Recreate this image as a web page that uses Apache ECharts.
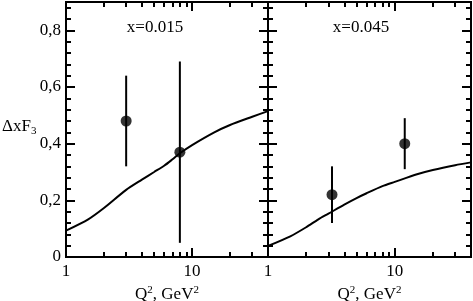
<!DOCTYPE html>
<html><head><meta charset="utf-8">
<script src="https://cdn.jsdelivr.net/npm/echarts@6/dist/echarts.min.js"></script>
<style>html,body{margin:0;padding:0;background:#fff}#c{width:473px;height:301px}</style>
</head><body><div id="c"></div>
<script>
// ---- data ----
const panelLabels = ['x=0.015', 'x=0.045'];
const curveQ1 = [1, 1.5, 2, 3, 4, 5, 6, 7, 8, 10, 15, 20, 30, 40];
const curveF1 = [0.093, 0.133, 0.173, 0.237, 0.273, 0.3, 0.322, 0.345, 0.366, 0.395, 0.44, 0.466, 0.495, 0.515];
const curveQ2 = [1, 1.5, 2, 2.5, 3, 4, 5, 6, 8, 10, 15, 20, 30, 40];
const curveF2 = [0.039, 0.073, 0.105, 0.133, 0.153, 0.185, 0.208, 0.225, 0.25, 0.265, 0.292, 0.307, 0.324, 0.334];
const ptQ1 = [3, 8];
const ptF1 = [0.48, 0.37];
const ptLo1 = [0.32, 0.05];
const ptHi1 = [0.64, 0.69];
const ptQ2 = [3.2, 12];
const ptF2 = [0.22, 0.40];
const ptLo2 = [0.12, 0.31];
const ptHi2 = [0.32, 0.49];
const xMajor = [1, 10];
const xMinor = [2, 3, 4, 5, 6, 7, 8, 9, 20, 30];
const yMajor = [0, 0.2, 0.4, 0.6, 0.8];
const yMinor = [0.04, 0.08, 0.12, 0.16, 0.24, 0.28, 0.32, 0.36, 0.44, 0.48, 0.52, 0.56, 0.64, 0.68, 0.72, 0.76, 0.84, 0.88];

const FONT = 'Liberation Serif';
const FS = 17;
const X_MIN = 1, X_MAX = 40;
const chart = echarts.init(document.getElementById('c'));
const grids = [
  {left: 66, top: 2, width: 202, height: 255, outerBoundsMode: 'none', containLabel: false},
  {left: 268, top: 2, width: 203, height: 255, outerBoundsMode: 'none', containLabel: false}
];
const xAxes = [], yAxes = [];
// main (data) log axis per grid: labels + name
function addXMain(g) {
  xAxes.push({
    type: 'log', logBase: 10, min: X_MIN, max: X_MAX, gridIndex: g, position: 'bottom',
    axisLine: {show: true, onZero: false, lineStyle: {color: '#000', width: 2}},
    axisTick: {show: false},
    axisLabel: {show: true, customValues: xMajor, margin: 6, color: '#000', fontFamily: FONT, fontSize: FS},
    splitLine: {show: false},
    name: 'Q{s|2}, GeV{s|2}',
    nameLocation: 'middle', nameGap: 28,
    nameTextStyle: {color: '#000', fontFamily: FONT, fontSize: FS,
      rich: {s: {fontSize: 11, verticalAlign: 'top', padding: [0,0,9,0], fontFamily: FONT, color: '#000'}}}
  });
}
// tick-only axes in log10 space
function addXTicks(g, pos, vals, len) {
  xAxes.push({
    type: 'value', min: Math.log10(X_MIN), max: Math.log10(X_MAX), gridIndex: g, position: pos,
    axisLine: {show: true, onZero: false, lineStyle: {color: '#000', width: 2}},
    axisTick: {show: true, inside: true, length: len, customValues: vals.map(v => Math.log10(v)), lineStyle: {color: '#000', width: 2}},
    axisLabel: {show: false}, splitLine: {show: false}
  });
}
function addY(g, pos, vals, len, main) {
  yAxes.push({
    type: 'value', min: 0, max: 0.9, gridIndex: g, position: pos,
    axisLine: {show: true, onZero: false, lineStyle: {color: '#000', width: 2}},
    axisTick: {show: true, inside: true, length: len, customValues: vals, lineStyle: {color: '#000', width: 2}},
    axisLabel: main ? {show: true, customValues: yMajor, margin: 5, color: '#000', fontFamily: FONT, fontSize: FS,
      formatter: v => String(v).replace('.', ',')} : {show: false},
    splitLine: {show: false}
  });
}
for (let g = 0; g < 2; g++) {
  addXMain(g);                           // index 5g
  addXTicks(g, 'bottom', xMajor, 9);
  addXTicks(g, 'bottom', xMinor, 5);
  addXTicks(g, 'top', xMajor, 9);
  addXTicks(g, 'top', xMinor, 5);
  addY(g, 'left', yMajor, 9, g === 0);   // index 4g
  addY(g, 'left', yMinor, 5, false);
  addY(g, 'right', yMajor, 9, false);
  addY(g, 'right', yMinor, 5, false);
}

function zip(a, b) { return a.map((v, i) => [v, b[i]]); }
function errSeries(xi, yi, q, lo, hi) {
  return {
    type: 'custom', xAxisIndex: xi, yAxisIndex: yi,
    data: q.map((v, i) => [v, lo[i], hi[i]]),
    renderItem: (params, api) => {
      const a = api.coord([api.value(0), api.value(1)]);
      const b = api.coord([api.value(0), api.value(2)]);
      return {type: 'line', shape: {x1: a[0], y1: a[1], x2: b[0], y2: b[1]}, style: {stroke: '#000', lineWidth: 2}};
    }, z: 3
  };
}
function curve(xi, yi, q, f) {
  return {type: 'line', xAxisIndex: xi, yAxisIndex: yi, data: zip(q, f), smooth: 0.25, showSymbol: false,
    lineStyle: {color: '#000', width: 2}, z: 2, silent: true};
}
function pts(xi, yi, q, f) {
  return {type: 'scatter', xAxisIndex: xi, yAxisIndex: yi, data: zip(q, f), symbol: 'circle', symbolSize: 11,
    itemStyle: {color: '#000'}, z: 4};
}
const series = [
  curve(0, 0, curveQ1, curveF1), errSeries(0, 0, ptQ1, ptLo1, ptHi1), pts(0, 0, ptQ1, ptF1),
  curve(5, 4, curveQ2, curveF2), errSeries(5, 4, ptQ2, ptLo2, ptHi2), pts(5, 4, ptQ2, ptF2)
];
chart.setOption({
  animation: false,
  grid: grids,
  xAxis: xAxes,
  yAxis: yAxes,
  series: series,
  graphic: [
    {type: 'text', x: 155, y: 28, style: {text: panelLabels[0], font: FS + 'px "Liberation Serif"', fill: '#000', align: 'center', verticalAlign: 'middle'}},
    {type: 'text', x: 361, y: 28, style: {text: panelLabels[1], font: FS + 'px "Liberation Serif"', fill: '#000', align: 'center', verticalAlign: 'middle'}},
    {type: 'text', x: 2, y: 127, style: {
      text: 'ΔxF{s|3}', fill: '#000', verticalAlign: 'middle', font: FS + 'px "Liberation Serif"',
      rich: {s: {fontSize: 11, fontFamily: FONT, verticalAlign: 'bottom', padding: [9,0,0,0], fill: '#000'}}}}
  ]
});
</script></body></html>
